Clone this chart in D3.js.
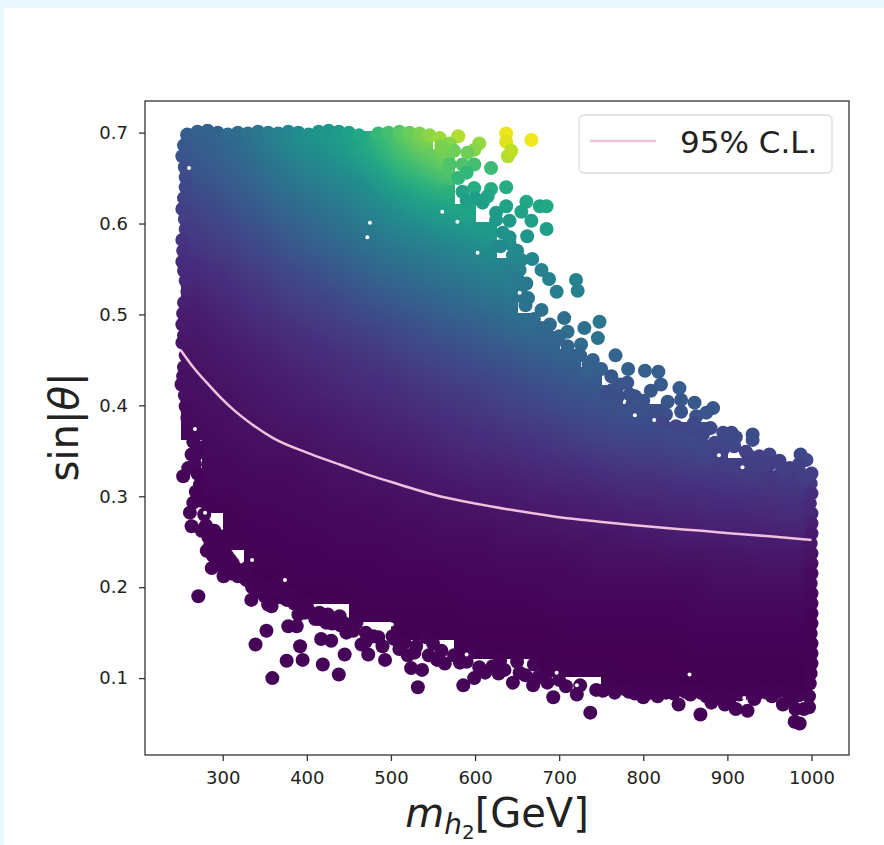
<!DOCTYPE html>
<html>
<head>
<meta charset="utf-8">
<script src="https://cdn.jsdelivr.net/npm/d3@7"></script>
<style>
html, body { margin: 0; padding: 0; background: #fff; }
text { font-family: "DejaVu Sans", sans-serif; fill: #222; }
</style>
</head>
<body>
<div id="chart"></div>
<script>
// axis ticks
const massTicks = [300, 400, 500, 600, 700, 800, 900, 1000];
const sinTicks = [0.1, 0.2, 0.3, 0.4, 0.5, 0.6, 0.7];

const binMass = [262.5, 287.5, 312.5, 337.5, 362.5, 387.5, 412.5, 437.5, 462.5, 487.5, 512.5, 537.5, 562.5, 587.5, 612.5,
    637.5, 662.5, 687.5, 712.5, 737.5, 762.5, 787.5, 812.5, 837.5, 862.5, 887.5, 912.5, 937.5, 962.5, 987.5];
const binSin = [0.692, 0.672, 0.652, 0.632, 0.612, 0.592, 0.572, 0.552, 0.532, 0.512, 0.492, 0.472, 0.452, 0.432, 0.412, 0.392, 0.372,
    0.352, 0.332, 0.312, 0.292, 0.272, 0.252, 0.232, 0.212, 0.192, 0.172, 0.152, 0.132, 0.112, 0.092];
const binFirst = [0, 0, 0, 0, 0, 0, 0, 0, 0, 0, 0, 0, 0, 0, 0, 0, 0, 1, 1, 1, 1, 2, 2, 3, 3, 4, 8, 10, 13, 17, 20];
const binColor = [
    [29, 31, 34, 39, 44, 49, 52, 55, 60, 67, 75, 81],
    [27, 29, 32, 36, 41, 45, 48, 51, 56, 62, 69, 74, 79],
    [25, 27, 30, 33, 37, 41, 44, 47, 51, 57, 63, 67, 72],
    [22, 24, 27, 30, 34, 37, 40, 43, 46, 51, 55, 59, 62],
    [19, 21, 24, 27, 30, 33, 36, 39, 42, 46, 50, 53, 56, 59],
    [17, 19, 21, 24, 27, 30, 33, 36, 39, 42, 45, 47, 50, 52, 55],
    [15, 17, 19, 21, 24, 27, 29, 32, 35, 38, 40, 42, 44, 46, 49],
    [12, 14, 16, 18, 21, 23, 26, 28, 31, 34, 36, 38, 40, 42, 44, 46],
    [10, 12, 14, 16, 18, 20, 22, 25, 27, 30, 32, 34, 36, 38, 40, 42],
    [8, 10, 12, 14, 16, 18, 19, 21, 24, 26, 28, 30, 32, 34, 36, 38],
    [7, 8, 10, 12, 13, 15, 17, 18, 20, 22, 24, 26, 28, 30, 32, 34, 36],
    [6, 7, 8, 10, 11, 13, 14, 16, 17, 19, 21, 23, 25, 26, 28, 30, 32, 33],
    [5, 6, 7, 8, 9, 11, 12, 13, 15, 16, 18, 20, 21, 23, 25, 26, 28, 30, 31],
    [4, 5, 6, 7, 8, 9, 10, 12, 13, 14, 15, 17, 18, 20, 21, 23, 25, 26, 28, 29],
    [4, 4, 5, 6, 7, 8, 9, 10, 11, 12, 13, 15, 16, 17, 19, 20, 22, 23, 25, 26, 27],
    [3, 4, 4, 5, 6, 7, 7, 8, 9, 10, 11, 13, 14, 15, 16, 18, 19, 20, 22, 23, 24, 25, 25],
    [3, 3, 4, 4, 5, 5, 6, 7, 8, 9, 9, 10, 12, 13, 14, 15, 16, 17, 19, 20, 21, 22, 22, 23, 24],
    [3, 3, 4, 4, 4, 5, 6, 6, 7, 8, 9, 10, 11, 12, 13, 14, 15, 16, 17, 18, 19, 19, 20, 21, 21],
    [2, 2, 3, 3, 3, 4, 4, 5, 6, 6, 7, 8, 9, 9, 10, 11, 12, 13, 14, 15, 16, 16, 17, 18, 18, 19, 19],
    [2, 2, 2, 2, 3, 3, 4, 4, 5, 5, 6, 6, 7, 8, 8, 9, 10, 10, 11, 12, 13, 13, 14, 14, 15, 15, 16, 16, 17],
    [1, 1, 2, 2, 2, 2, 3, 3, 3, 4, 4, 5, 5, 6, 6, 7, 7, 8, 8, 9, 10, 10, 11, 11, 12, 12, 13, 13, 14],
    [1, 1, 1, 2, 2, 2, 2, 3, 3, 3, 4, 4, 4, 5, 5, 6, 6, 7, 7, 8, 8, 9, 9, 10, 10, 10, 11, 11],
    [1, 1, 1, 1, 1, 2, 2, 2, 2, 3, 3, 3, 3, 4, 4, 4, 5, 5, 5, 6, 6, 7, 7, 7, 8, 8, 8, 8],
    [1, 1, 1, 1, 1, 1, 1, 2, 2, 2, 2, 2, 3, 3, 3, 3, 4, 4, 4, 4, 5, 5, 5, 5, 6, 6, 6],
    [0, 0, 1, 1, 1, 1, 1, 1, 1, 1, 2, 2, 2, 2, 2, 2, 3, 3, 3, 3, 3, 3, 4, 4, 4, 4, 4],
    [0, 0, 0, 0, 1, 1, 1, 1, 1, 1, 1, 1, 1, 2, 2, 2, 2, 2, 2, 2, 2, 3, 3, 3, 3, 3],
    [0, 0, 0, 0, 0, 1, 1, 1, 1, 1, 1, 1, 1, 1, 1, 1, 2, 2, 2, 2, 2, 2],
    [0, 0, 0, 0, 0, 0, 0, 0, 1, 1, 1, 1, 1, 1, 1, 1, 1, 1, 1, 1],
    [0, 0, 0, 0, 0, 0, 0, 0, 0, 0, 0, 1, 1, 1, 1, 1, 1],
    [0, 0, 0, 0, 0, 0, 0, 0, 0, 0, 0, 0, 0],
    [0, 0, 0, 0, 0, 0, 0, 0, 0, 0]
];

// single scatter points around the edge: [mass, sin, colour value]
const topDots = [[258, .698, .29], [270, .701, .30], [282, .702, .31], [294, .700, .32], [306, .698, .34], [318, .700, .35],
    [330, .699, .37], [342, .701, .40], [354, .700, .42], [366, .699, .44], [378, .701, .46], [390, .700, .49], [402, .698, .50],
    [414, .701, .52], [426, .702, .53], [438, .701, .55], [450, .700, .57], [462, .697, .60], [485, .699, .67], [497, .700, .70],
    [510, .701, .74], [522, .700, .77], [534, .699, .80], [546, .697, .83], [558, .694, .85], [580, .696, .88], [570, .688, .82],
    [560, .685, .80], [575, .680, .78], [570, .665, .72], [585, .665, .72], [580, .650, .66]];
const leftDots = [[258, .697, .28], [254, .686, .27], [252, .674, .26], [255, .662, .24], [256, .651, .23], [256, .640, .22],
    [254, .628, .20], [252, .616, .19], [255, .605, .18], [256, .594, .17], [252, .582, .15], [253, .570, .14], [252, .558, .13],
    [254, .548, .12], [256, .537, .11], [258, .525, .10], [254, .513, .09], [253, .501, .08], [252, .489, .07], [254, .477, .07],
    [252, .469, .06], [254, .442, .05], [251, .423, .04], [256, .399, .03], [256, .455, .05], [253, .432, .04], [255, .411, .04],
    [258, .386, .03], [260, .373, .02], [272, .354, .02], [267, .335, .02], [273, .313, .01], [253, .322, .01], [259, .331, .02],
    [263, .346, .02], [265, .293, .01], [261, .282, .01], [263, .267, .01], [275, .262, .01], [281, .240, .01], [287, .221, .01],
    [301, .212, .01], [271, .190, .01], [293, .249, .01], [297, .256, .01], [320, .219, .01], [309, .230, .01], [328, .208, .01],
    [344, .205, .01], [364, .205, .01], [380, .194, .01], [400, .183, .01], [334, .186, .01], [354, .181, .01], [358, .179, .01],
    [376, .186, .01], [265, .360, .02], [268, .345, .02], [270, .325, .01], [268, .305, .01], [275, .295, .01], [278, .280, .01],
    [280, .268, .01], [283, .255, .01], [290, .262, .01], [295, .245, .01], [300, .245, .01], [305, .235, .01], [292, .228, .01],
    [300, .222, .01], [312, .226, .01], [318, .212, .01], [330, .222, .01], [345, .195, .01], [355, .198, .01], [372, .190, .01],
    [385, .182, .01], [395, .180, .01], [405, .172, .01], [410, .165, .01], [425, .170, .01], [440, .158, .01], [455, .152, .01],
    [470, .150, .01], [485, .145, .01], [285, .245, .01], [290, .250, .01], [288, .235, .01], [298, .232, .01], [310, .215, .01],
    [325, .212, .01], [335, .200, .01], [350, .190, .01], [365, .195, .01], [390, .170, .01], [400, .178, .01], [415, .165, .01],
    [430, .160, .01], [445, .160, .01], [470, .140, .01], [490, .135, .01], [510, .132, .01], [530, .135, .01], [545, .125, .01],
    [555, .120, .01], [520, .125, .01]];
const bottomDots = [[352, .152, .01], [339, .137, .01], [378, .157, .01], [388, .157, .01], [398, .172, .01], [376, .119, .01],
    [392, .135, .01], [395, .120, .01], [419, .115, .01], [438, .104, .01], [359, .100, .01], [417, .143, .01], [429, .141, .01],
    [445, .126, .01], [447, .150, .01], [465, .137, .01], [473, .126, .01], [493, .120, .01], [423, .161, .01], [415, .172, .01],
    [439, .168, .01], [459, .161, .01], [479, .146, .01], [502, .146, .01], [504, .143, .01], [516, .139, .01], [524, .111, .01],
    [537, .109, .01], [532, .090, .01], [528, .128, .01], [542, .145, .01], [564, .116, .01], [582, .117, .01], [586, .092, .01],
    [599, .100, .01], [605, .112, .01], [621, .113, .01], [635, .109, .01], [645, .095, .01], [653, .106, .01], [669, .092, .01],
    [686, .095, .01], [693, .079, .01], [708, .091, .01], [721, .082, .01], [737, .062, .01], [744, .087, .01], [760, .090, .01],
    [778, .088, .01], [783, .085, .01], [800, .079, .01], [817, .080, .01], [827, .084, .01], [842, .071, .01], [863, .086, .01],
    [868, .060, .01], [875, .080, .01], [881, .073, .01], [888, .080, .01], [897, .071, .01], [904, .079, .01], [910, .066, .01],
    [924, .064, .01], [932, .077, .01], [941, .087, .01], [953, .080, .01], [966, .071, .01], [977, .077, .01], [980, .052, .01],
    [986, .050, .01], [981, .066, .01], [991, .066, .01], [997, .068, .01], [997, .080, .01], [660, .103, .01], [675, .101, .01],
    [612, .106, .01], [628, .105, .01], [700, .098, .01], [725, .092, .01], [850, .085, .01], [590, .118, .01], [630, .120, .01],
    [650, .118, .01], [670, .115, .01], [560, .130, .01], [575, .125, .01], [550, .138, .01], [595, .128, .01], [752, .086, .01],
    [766, .084, .01], [790, .083, .01], [808, .084, .01], [836, .083, .01], [856, .082, .01], [868, .084, .01], [893, .083, .01],
    [914, .082, .01], [922, .084, .01], [936, .083, .01], [947, .084, .01], [960, .085, .01], [972, .083, .01], [985, .081, .01]];
const rightDots = [[1000, .325, .18], [999, .314, .16], [1000, .303, .14], [998, .292, .12], [1000, .281, .11], [1000, .270, .09],
    [1000, .259, .07], [999, .248, .06], [1000, .237, .05], [1000, .226, .04], [1000, .215, .03], [999, .204, .03], [1000, .193, .02],
    [1000, .182, .02], [1000, .171, .01], [1000, .160, .01], [999, .149, .01], [1000, .138, .01], [1000, .127, .01], [1000, .116, .01],
    [999, .105, .01], [998, .094, .01], [950, .322, .16], [960, .322, .16], [970, .322, .17], [980, .322, .17], [990, .322, .18]];
const upperDots = [[637, .699, .97], [637, .690, .95], [667, .692, .98], [639, .674, .88], [643, .680, .90], [605, .688, .84],
    [599, .681, .82], [591, .678, .78], [599, .665, .70], [619, .661, .68], [590, .656, .66], [599, .639, .62], [619, .638, .62],
    [637, .640, .62], [637, .619, .58], [661, .624, .60], [655, .613, .58], [677, .619, .59], [685, .619, .60], [667, .603, .56],
    [685, .594, .56], [662, .586, .52], [641, .603, .54], [625, .604, .54], [633, .590, .50], [641, .578, .48], [655, .560, .46],
    [668, .561, .46], [639, .547, .42], [679, .549, .44], [688, .539, .43], [697, .525, .42], [720, .538, .44], [722, .526, .43],
    [661, .534, .40], [663, .518, .38], [679, .505, .37], [706, .496, .36], [710, .481, .35], [689, .489, .34], [700, .476, .34],
    [730, .485, .37], [748, .492, .40], [746, .474, .38], [726, .467, .34], [689, .465, .31], [740, .450, .31], [750, .440, .30],
    [767, .455, .32], [782, .440, .30], [802, .438, .30], [818, .437, .30], [821, .423, .29], [809, .416, .27], [843, .419, .29],
    [845, .406, .27], [829, .404, .27], [861, .403, .27], [883, .397, .27], [875, .392, .26], [863, .388, .25], [845, .393, .25],
    [827, .390, .24], [815, .393, .24], [793, .399, .24], [787, .401, .24], [762, .432, .27], [772, .423, .26], [781, .425, .26],
    [784, .412, .25], [763, .417, .25], [756, .412, .24], [733, .437, .30], [898, .366, .22], [930, .368, .24], [930, .362, .23],
    [908, .355, .21], [871, .368, .21], [855, .373, .21], [839, .377, .21], [823, .381, .21], [885, .359, .20], [922, .349, .19],
    [950, .346, .20], [962, .339, .19], [974, .331, .18], [987, .346, .22], [994, .340, .21], [995, .322, .18], [985, .329, .18],
    [938, .344, .19], [950, .335, .18], [965, .330, .18], [985, .335, .19], [925, .345, .19], [910, .365, .22], [895, .352, .20],
    [609, .623, .56], [625, .612, .55], [641, .585, .50], [653, .549, .44], [585, .635, .58], [590, .625, .56], [600, .628, .56],
    [615, .630, .58], [655, .530, .40], [660, .510, .37], [670, .495, .35], [680, .485, .33], [695, .470, .32], [710, .465, .32],
    [725, .455, .31], [735, .445, .30], [630, .575, .47], [645, .565, .46], [650, .570, .47], [650, .540, .41], [655, .520, .38],
    [790, .410, .25], [800, .405, .25], [770, .410, .24], [905, .370, .22], [860, .380, .22], [880, .375, .22], [895, .370, .22]];

// small white holes left between the points
const holeMass = [603, 579, 561, 653, 279, 267, 335, 374, 501, 790, 813, 918, 890, 472, 475, 260, 590, 697, 721, 855, 920];
const holeSin = [.568, .602, .613, .524, .282, .374, .230, .208, .159, .389, .384, .332, .345, .585, .601, .661, .126, .106, .092, .104, .078];

// 95% C.L. curve
const limitMass = [250, 265, 281, 297, 313, 335, 360, 400, 439, 475, 510, 550, 600, 650, 700, 748, 790, 827, 870, 906, 950, 1000];
const limitSin = [.461, .442, .425, .409, .395, .379, .364, .348, .335, .323, .313, .302, .292, .284, .277, .272, .268, .265, .262, .259, .256, .252];

const svg = d3.select('#chart').append('svg')
    .attr('width', 884)
    .attr('height', 845)
    .style('display', 'block');

// pale strip of the page behind the figure
svg.append('rect').attr('width', 884).attr('height', 845).attr('fill', '#e9f7fe');
svg.append('rect').attr('x', 4).attr('y', 8).attr('width', 880).attr('height', 837).attr('fill', '#fff');

const x = d3.scaleLinear().domain([207.6, 1044.6]).range([145, 849]);
const y = d3.scaleLinear().domain([0.0154, 0.7348]).range([755, 101]);
const color = d3.scaleSequential(d3.interpolateViridis).domain([0, 1]);

// blurs the colour steps between cells but stays inside their outline
const soft = svg.append('defs').append('filter').attr('id', 'soft')
    .attr('filterUnits', 'userSpaceOnUse')
    .attr('color-interpolation-filters', 'sRGB')
    .attr('x', 100).attr('y', 80).attr('width', 780).attr('height', 700);
soft.append('feGaussianBlur').attr('in', 'SourceGraphic').attr('stdDeviation', 9).attr('result', 'b');
soft.append('feComposite').attr('in', 'b').attr('in2', 'SourceAlpha').attr('operator', 'in').attr('result', 'c');
const merge = soft.append('feMerge');
merge.append('feMergeNode').attr('in', 'SourceGraphic');
merge.append('feMergeNode').attr('in', 'c');

// Body cells
const cells = binColor.flatMap((row, i) => row.map((v, j) => ({
    m: binMass[binFirst[i] + j], s: binSin[i], v: v
})));
svg.append('g')
    .attr('filter', 'url(#soft)')
    .selectAll('rect')
    .data(cells)
    .join('rect')
    .attr('x', d => x(d.m - 12.5))
    .attr('y', d => y(d.s + 0.01))
    .attr('width', d => x(d.m + 12.5) - x(d.m - 12.5) + 0.5)
    .attr('height', d => y(d.s - 0.01) - y(d.s + 0.01) + 0.5)
    .attr('fill', d => color(d.v / 100))
    .attr('shape-rendering', 'crispEdges');

// Edge points
const dots = [...rightDots, ...bottomDots, ...leftDots, ...topDots, ...upperDots];
svg.append('g')
    .selectAll('circle')
    .data(dots)
    .join('circle')
    .attr('cx', d => x(d[0]))
    .attr('cy', d => y(d[1]))
    .attr('r', 7)
    .attr('fill', d => color(d[2]));

svg.append('g')
    .selectAll('circle')
    .data(d3.zip(holeMass, holeSin))
    .join('circle')
    .attr('cx', d => x(d[0]))
    .attr('cy', d => y(d[1]))
    .attr('r', 2)
    .attr('fill', '#fff');

// Limit curve
const limitLine = d3.line().x(d => x(d[0])).y(d => y(d[1])).curve(d3.curveMonotoneX);
svg.append('path')
    .datum(d3.zip(limitMass, limitSin))
    .attr('d', limitLine)
    .attr('fill', 'none')
    .attr('stroke', '#f0c0dc')
    .attr('stroke-width', 2.5);

// Frame
svg.append('rect')
    .attr('x', x.range()[0]).attr('y', y.range()[1])
    .attr('width', x.range()[1] - x.range()[0])
    .attr('height', y.range()[0] - y.range()[1])
    .attr('fill', 'none')
    .attr('stroke', '#333')
    .attr('stroke-width', 1.3);

// Axes
const xAxis = svg.append('g')
    .attr('transform', `translate(0,${y.range()[0]})`)
    .call(d3.axisBottom(x).tickValues(massTicks).tickSizeOuter(0).tickSize(6).tickPadding(10).tickFormat(d3.format('d')));
const yAxis = svg.append('g')
    .attr('transform', `translate(${x.range()[0]},0)`)
    .call(d3.axisLeft(y).tickValues(sinTicks).tickSizeOuter(0).tickSize(6).tickPadding(11).tickFormat(d3.format('.1f')));
[xAxis, yAxis].forEach(a => {
    a.select('.domain').remove();
    a.selectAll('line').attr('stroke', '#333').attr('stroke-width', 1.3);
    a.selectAll('text').attr('font-size', 18).attr('font-family', '"DejaVu Sans", sans-serif').attr('fill', '#333');
});

// Axis titles
const xLabel = svg.append('text')
    .attr('x', 497).attr('y', 827)
    .attr('text-anchor', 'middle')
    .attr('font-size', 40);
xLabel.append('tspan').attr('font-style', 'italic').text('m');
xLabel.append('tspan').attr('font-style', 'italic').attr('font-size', 28).attr('dy', 7).text('h');
xLabel.append('tspan').attr('font-size', 20).attr('dy', 5).text('2');
xLabel.append('tspan').attr('dy', -12).text('[GeV]');

const yLabel = svg.append('text')
    .attr('transform', 'translate(78,427) rotate(-90)')
    .attr('text-anchor', 'middle')
    .attr('font-size', 40);
yLabel.append('tspan').text('sin|');
yLabel.append('tspan').attr('font-style', 'italic').text('θ');
yLabel.append('tspan').text('|');

// Legend
svg.append('rect')
    .attr('x', 579).attr('y', 115)
    .attr('width', 253).attr('height', 58)
    .attr('rx', 5)
    .attr('fill', '#fff')
    .attr('stroke', '#dcdcdc')
    .attr('stroke-width', 1.3);
svg.append('line')
    .attr('x1', 590).attr('x2', 656)
    .attr('y1', 141).attr('y2', 141)
    .attr('stroke', '#f0c0dc')
    .attr('stroke-width', 2.5);
svg.append('text')
    .attr('x', 680).attr('y', 153)
    .attr('font-size', 31)
    .text('95% C.L.');
</script>
</body>
</html>
